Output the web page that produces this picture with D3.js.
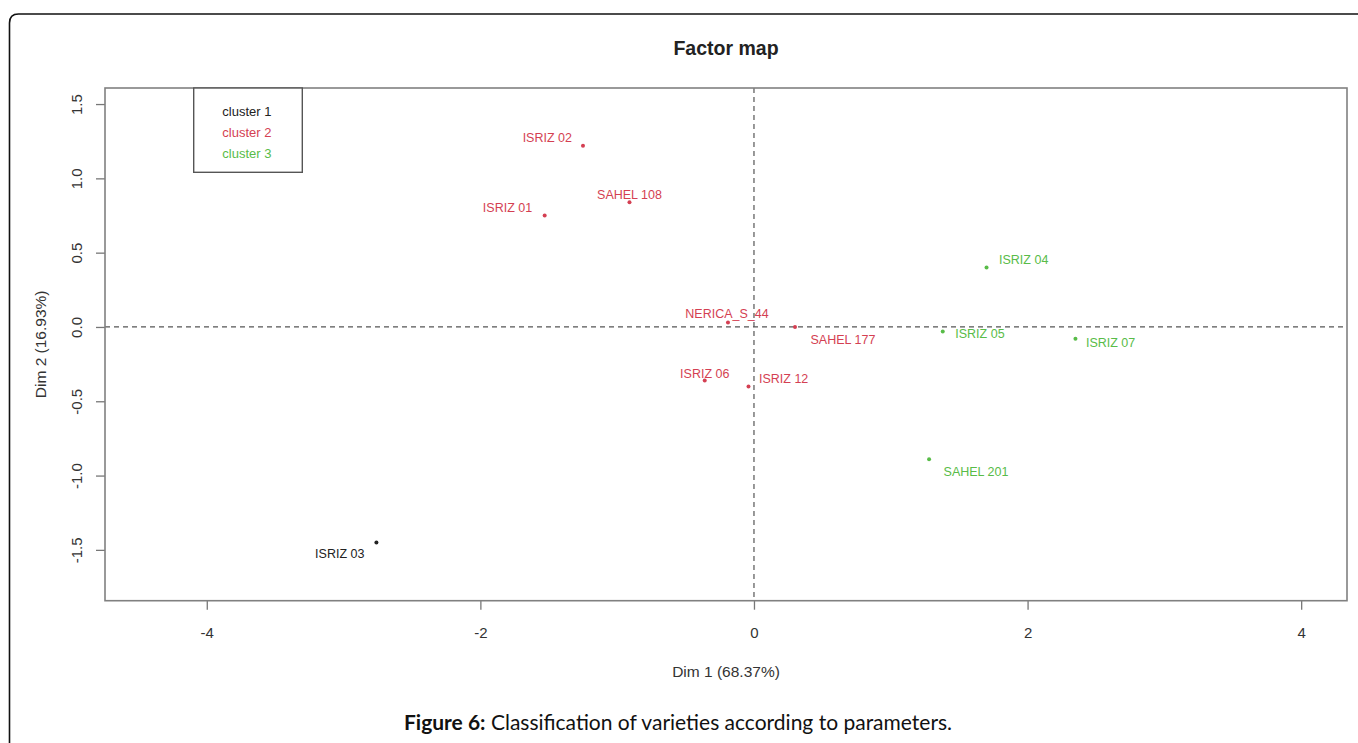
<!DOCTYPE html>
<html>
<head>
<meta charset="utf-8">
<script src="https://cdn.jsdelivr.net/npm/d3@7"></script>
<style>
  body { margin: 0; background: #fff; }
  svg { display: block; }
</style>
</head>
<body>
<svg id="factorMap"></svg>
<script>
// PCA coordinates of the rice varieties
const varieties = ["ISRIZ 01", "ISRIZ 02", "ISRIZ 03", "ISRIZ 04", "ISRIZ 05", "ISRIZ 06",
                   "ISRIZ 07", "ISRIZ 12", "NERICA_S_44", "SAHEL 108", "SAHEL 177", "SAHEL 201"]
const dim1 = [-1.53, -1.25, -2.76, 1.70, 1.38, -0.36, 2.35, -0.04, -0.19, -0.91, 0.30, 1.28]
const dim2 = [0.75, 1.22, -1.45, 0.40, -0.03, -0.36, -0.08, -0.40, 0.03, 0.84, 0.00, -0.89]
const cluster = [2, 2, 1, 3, 3, 2, 3, 2, 2, 2, 2, 3]
const clusterNames = ["cluster 1", "cluster 2", "cluster 3"]
const xTicks = [-4, -2, 0, 2, 4]
const yTicks = [-1.5, -1.0, -0.5, 0.0, 0.5, 1.0, 1.5]

// where each label sits next to its point (px offset + anchor), like R's text placement
const labelPlace = {
    "ISRIZ 01": [-12.5, -3.5, "end"],
    "ISRIZ 02": [-11, -3.5, "end"],
    "ISRIZ 03": [-12, 16, "end"],
    "ISRIZ 04": [12.5, -3.8, "start"],
    "ISRIZ 05": [12.5, 6.5, "start"],
    "ISRIZ 06": [0, -2.2, "middle"],
    "ISRIZ 07": [10.5, 7.8, "start"],
    "ISRIZ 12": [10.5, -3.8, "start"],
    "NERICA_S_44": [-1, -4.8, "middle"],
    "SAHEL 108": [0, -3.5, "middle"],
    "SAHEL 177": [15.5, 16.8, "start"],
    "SAHEL 201": [14.5, 16.9, "start"]
}

const width = 1358, height = 743
const plot = {left: 105, right: 1347, top: 88, bottom: 600.7}
const color = d3.scaleOrdinal().domain([1, 2, 3]).range(["#222222", "#D43F52", "#58BC48"])
const font = "'Liberation Sans', Arial, sans-serif"

const x = d3.scaleLinear().domain([-4.744, 4.335]).range([plot.left, plot.right])
const y = d3.scaleLinear().domain([-1.842, 1.608]).range([plot.bottom, plot.top])

const svg = d3.select("#factorMap")
    .attr("width", width)
    .attr("height", height)
    .style("font-family", font)

// outer page frame (only top/left edges visible, rounded corner)
svg.append("path")
    .attr("d", "M9.5,760 L9.5,23 Q9.5,14 18.5,14 L1370,14")
    .attr("fill", "none")
    .attr("stroke", "#111")
    .attr("stroke-width", 1.6)

// title
svg.append("text")
    .attr("x", (plot.left + plot.right) / 2)
    .attr("y", 55)
    .attr("text-anchor", "middle")
    .attr("font-weight", "bold")
    .attr("font-size", 19.5)
    .attr("fill", "#222")
    .text("Factor map")

// axes
const xAxis = svg.append("g")
    .attr("transform", `translate(0,${plot.bottom})`)
    .call(d3.axisBottom(x).tickValues(xTicks).tickSize(9).tickFormat(d => String(d)))
xAxis.select(".domain").remove()
xAxis.selectAll("line").attr("stroke", "#777").attr("stroke-width", 1.3)
xAxis.selectAll("text")
    .attr("y", 37.5).attr("dy", 0)
    .attr("font-size", 15).attr("font-family", font).attr("fill", "#333")

const yAxis = svg.append("g")
    .attr("transform", `translate(${plot.left},0)`)
    .call(d3.axisLeft(y).tickValues(yTicks).tickSize(9).tickFormat(d => d.toFixed(1)))
yAxis.select(".domain").remove()
yAxis.selectAll("line").attr("stroke", "#777").attr("stroke-width", 1.3)
yAxis.selectAll("text")
    .attr("transform", "rotate(-90)")
    .attr("x", 0).attr("y", -23).attr("dy", 0)
    .attr("text-anchor", "middle")
    .attr("font-size", 15).attr("font-family", font).attr("fill", "#333")

// axis titles
svg.append("text")
    .attr("x", (plot.left + plot.right) / 2)
    .attr("y", 677)
    .attr("text-anchor", "middle")
    .attr("font-size", 15.5)
    .attr("fill", "#333")
    .text("Dim 1 (68.37%)")
svg.append("text")
    .attr("transform", `translate(45.5,${(plot.top + plot.bottom) / 2}) rotate(-90)`)
    .attr("text-anchor", "middle")
    .attr("font-size", 15.5)
    .attr("fill", "#333")
    .text("Dim 2 (16.93%)")

// dashed origin lines
svg.append("line")
    .attr("x1", plot.left).attr("x2", plot.right)
    .attr("y1", y(0)).attr("y2", y(0))
    .attr("stroke", "#555").attr("stroke-width", 1.2).attr("stroke-dasharray", "5,4")
svg.append("line")
    .attr("x1", x(0)).attr("x2", x(0))
    .attr("y1", plot.top).attr("y2", plot.bottom)
    .attr("stroke", "#555").attr("stroke-width", 1.2).attr("stroke-dasharray", "5,4")

// points + labels
const pts = varieties.map((name, i) => ({name, d1: dim1[i], d2: dim2[i], cl: cluster[i]}))
const g = svg.selectAll(".variety")
    .data(pts)
    .join("g")
    .attr("class", "variety")
    .attr("transform", d => `translate(${x(d.d1)},${y(d.d2)})`)
g.append("circle")
    .attr("r", 2)
    .attr("fill", d => color(d.cl))
g.append("text")
    .attr("x", d => labelPlace[d.name][0])
    .attr("y", d => labelPlace[d.name][1])
    .attr("text-anchor", d => labelPlace[d.name][2])
    .attr("font-size", 12.5)
    .attr("fill", d => color(d.cl))
    .text(d => d.name)

// plot box
svg.append("rect")
    .attr("x", plot.left).attr("y", plot.top)
    .attr("width", plot.right - plot.left).attr("height", plot.bottom - plot.top)
    .attr("fill", "none").attr("stroke", "#808080").attr("stroke-width", 1.6)

// legend
const legendG = svg.append("g").attr("class", "legend")
legendG.append("rect")
    .attr("x", 193.7).attr("y", plot.top)
    .attr("width", 108.6).attr("height", 84.3)
    .attr("fill", "#fff").attr("stroke", "#555").attr("stroke-width", 1.4)
legendG.selectAll("text")
    .data(clusterNames)
    .join("text")
    .attr("x", 222.3)
    .attr("y", (d, i) => 116 + i * 21.2)
    .attr("font-size", 13)
    .attr("fill", (d, i) => color(i + 1))
    .text(d => d)

// figure caption
const cap = svg.append("text")
    .attr("x", 678)
    .attr("y", 730)
    .attr("text-anchor", "middle")
    .attr("font-family", "Lato, 'Open Sans', sans-serif")
    .attr("font-size", 21)
    .attr("fill", "#111")
cap.append("tspan").attr("font-weight", "bold").text("Figure 6:")
cap.append("tspan").text(" Classification of varieties according to parameters.")
</script>
</body>
</html>
